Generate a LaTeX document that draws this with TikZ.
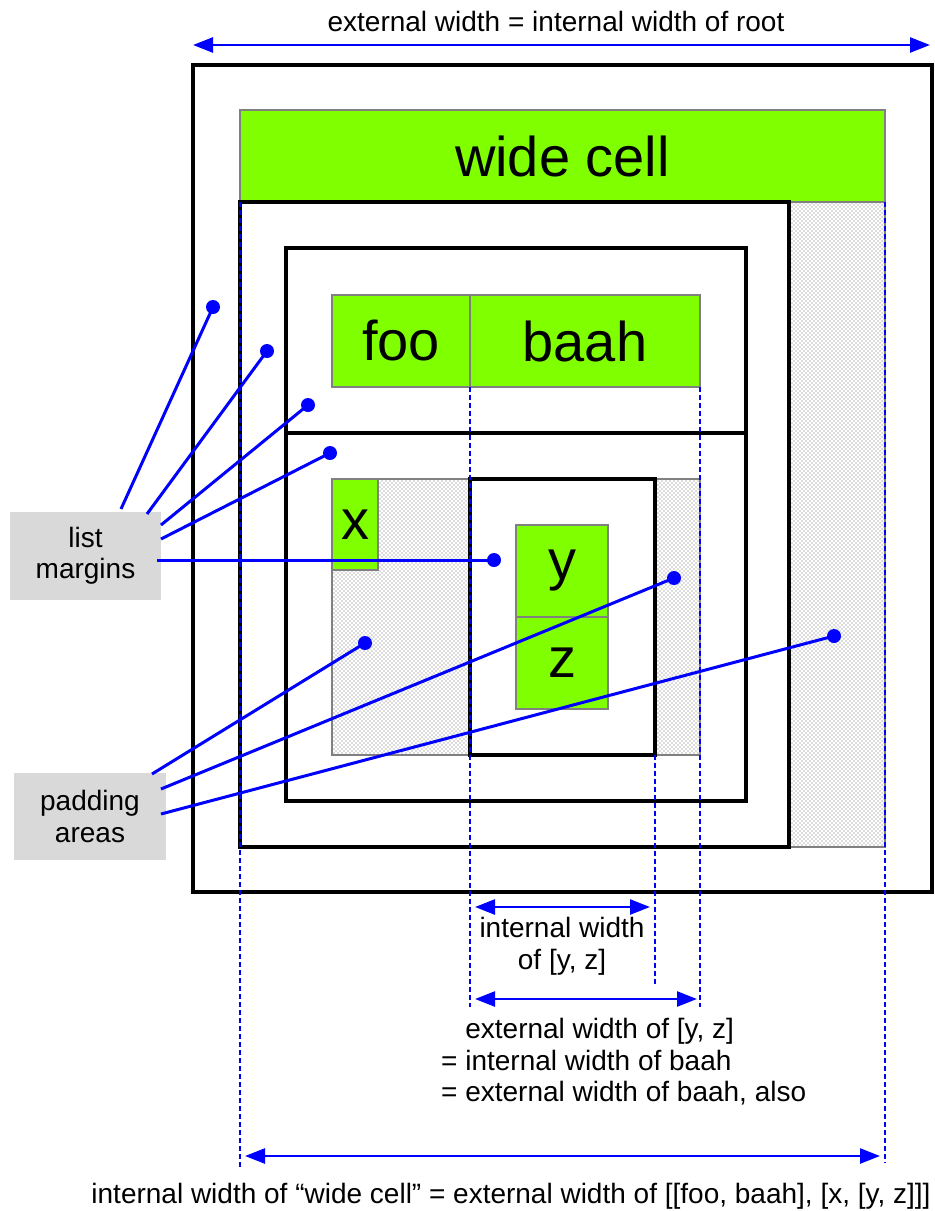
\documentclass[tikz,border=0pt]{standalone}
\usepackage{fontspec}
\setmainfont{Liberation Sans}
\usetikzlibrary{arrows.meta,patterns}
\definecolor{cellgreen}{HTML}{80FF00}
\definecolor{cellgray}{HTML}{808080}
\definecolor{lblgray}{HTML}{D9D9D9}
\newcommand{\bigsz}{\fontsize{56}{60}\selectfont}
\newcommand{\smallsz}{\fontsize{28}{31.5}\selectfont}
\pgfdeclarepatternformonly{bigdots}{\pgfqpoint{-1pt}{-1pt}}{\pgfqpoint{3pt}{3pt}}{\pgfqpoint{4pt}{4pt}}{%
  \pgfpathcircle{\pgfqpoint{0pt}{0pt}}{0.7pt}\pgfusepath{fill}%
  \pgfpathcircle{\pgfqpoint{2pt}{2pt}}{0.7pt}\pgfusepath{fill}}
\begin{document}
\begin{tikzpicture}[x=1pt,y=-1pt,
  thickbox/.style={draw=black,line width=4.5pt,anchor=north west,inner sep=0pt,outer sep=0pt},
  cell/.style={draw=cellgray,line width=1.5pt,fill=cellgreen,inner sep=0pt,outer sep=0pt,anchor=north west,font=\bigsz},
  padarea/.style={draw=cellgray,line width=1.5pt,pattern=bigdots,pattern color=black!60,anchor=north west,inner sep=0pt,outer sep=0pt},
  guide/.style={draw=blue,line width=2.8pt,dash pattern=on 5pt off 3pt},
  dim/.style={draw=blue,line width=2.5pt,{Triangle[length=20pt,width=15pt]}-{Triangle[length=20pt,width=15pt]}},
  leader/.style={draw=blue,line width=3pt},
  dot/.style={circle,fill=blue,inner sep=0pt,minimum size=14pt},
  lbl/.style={fill=lblgray,align=center,inner sep=0pt,font=\smallsz},
  txt/.style={font=\smallsz,inner sep=0pt}]
\useasboundingbox (0,0) rectangle (935,1211);
% boxes
\node[thickbox,minimum width=739pt,minimum height=827pt] (root) at (193,65) {};
\node[cell,minimum width=645pt,minimum height=92pt] (wide) at (240,110) {wide cell};
\node[padarea,minimum width=96pt,minimum height=645pt] (rpad) at (789,202) {};
\node[thickbox,minimum width=549pt,minimum height=645pt] (outer) at (240,202) {};
\node[thickbox,minimum width=460pt,minimum height=185pt] (fb) at (286,248) {};
\node[thickbox,minimum width=460pt,minimum height=368pt] (xyz) at (286,433) {};
\node[cell,minimum width=138pt,minimum height=92pt] (foo) at (332,295) {foo};
\node[cell,minimum width=230pt,minimum height=92pt] (baah) at (470,295) {baah};
\node[padarea,minimum width=368pt,minimum height=276pt] (lpad) at (332,479) {};
\node[thickbox,fill=white,minimum width=185pt,minimum height=276pt] (yz) at (470,479) {};
\node[cell,minimum width=46pt,minimum height=91pt] (x) at (332,479) {x};
\node[cell,minimum width=92pt,minimum height=92pt] (y) at (516,525) {y};
\node[cell,minimum width=92pt,minimum height=92pt] (z) at (516,617) {z};
% guide lines
\coordinate (g1) at (240,1168);
\coordinate (g2) at (885,1163);
\coordinate (g3) at (470,1007);
\coordinate (g4) at (700,1007);
\coordinate (g5) at (655,985);
\draw[guide] (wide.south west) -- (g1);
\draw[guide] (wide.south east) -- (g2);
\draw[guide] (baah.south west) -- (g3);
\draw[guide] (baah.south east) -- (g4);
\draw[guide] (yz.south east) -- (g5);
% dimension arrows
\coordinate (a1l) at (193,45); \coordinate (a1r) at (930,45);
\coordinate (a2l) at (475,907); \coordinate (a2r) at (650,907);
\coordinate (a3l) at (475,999); \coordinate (a3r) at (697,999);
\coordinate (a4l) at (245,1156); \coordinate (a4r) at (880,1156);
\draw[dim] (a1l) -- (a1r);
\draw[dim] (a2l) -- (a2r);
\draw[dim] (a3l) -- (a3r);
\draw[dim] (a4l) -- (a4r);
% texts
\node[txt] (t1) at (556,21) {external width = internal width of root};
\node[txt,align=center] (t2) at (562,946) {internal width\\of [y, z]};
\node[txt,align=left,anchor=west] (t3) at (441,1062) {\phantom{= }external width of [y, z]\\= internal width of baah\\= external width of baah, also};
\node[txt] (t4) at (511,1196) {internal width of “wide cell” = external width of [[foo, baah], [x, [y, z]]]};
% labels
\node[lbl,minimum width=151pt,minimum height=88pt] (lm) at (85.5,556) {list\\margins};
\node[lbl,minimum width=152pt,minimum height=87pt] (pa) at (90,816.5) {padding\\areas};
% dots
\node[dot] (d1) at (213,307) {};
\node[dot] (d2) at (267,351) {};
\node[dot] (d3) at (308,405) {};
\node[dot] (d4) at (330,453) {};
\node[dot] (d5) at (494,560) {};
\node[dot] (d6) at (365,643) {};
\node[dot] (d7) at (674,578) {};
\node[dot] (d8) at (834,636) {};
% leader start points
\coordinate (l1) at (121,509);
\coordinate (l2) at (147,514);
\coordinate (l3) at (161,525);
\coordinate (l4) at (161,539);
\coordinate (l5) at (157,560);
\coordinate (p1) at (152,774);
\coordinate (p2) at (161,789);
\coordinate (p3) at (161,814);
\draw[leader] (l1) -- (d1.center);
\draw[leader] (l2) -- (d2.center);
\draw[leader] (l3) -- (d3.center);
\draw[leader] (l4) -- (d4.center);
\draw[leader] (l5) -- (d5.center);
\draw[leader] (p1) -- (d6.center);
\draw[leader] (p2) -- (d7.center);
\draw[leader] (p3) -- (d8.center);
\end{tikzpicture}
\end{document}
